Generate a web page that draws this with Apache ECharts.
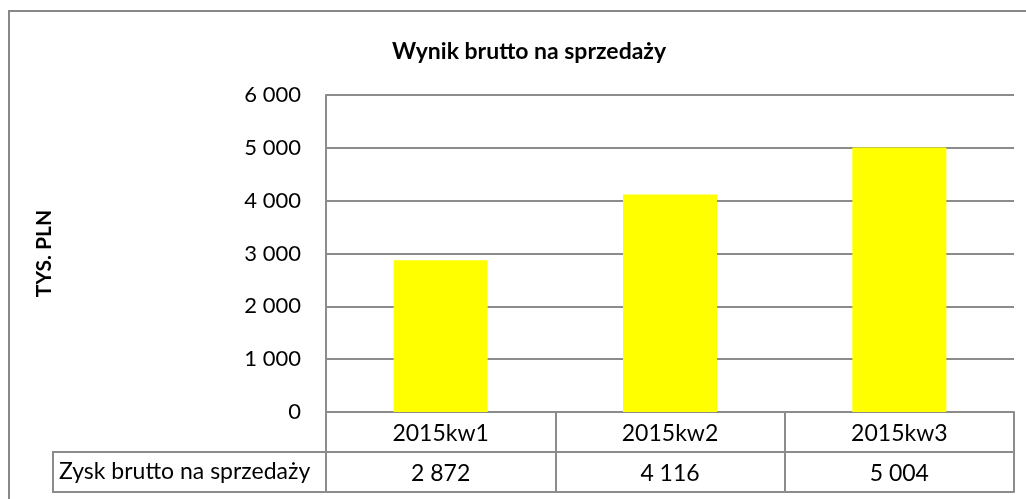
<!DOCTYPE html>
<html>
<head>
<meta charset="utf-8">
<title>Wynik brutto na sprzedaży</title>
<script src="https://cdn.jsdelivr.net/npm/echarts@6/dist/echarts.min.js"></script>
<style>
  html, body { margin: 0; padding: 0; background: #fff; }
  #chart { width: 1026px; height: 499px; }
</style>
</head>
<body>
<div id="chart"></div>
<script>
// data
const categories = ['2015kw1', '2015kw2', '2015kw3'];
const seriesName = 'Zysk brutto na sprzedaży';
const profit = [2872, 4116, 5004];
const yTicks = [0, 1000, 2000, 3000, 4000, 5000, 6000];

const lineColor = '#8c8c8c';
const font = 'Lato, "Noto Sans", sans-serif';

// layout
const gridLeft = 326, gridRight = 12, gridTop = 95, gridBottom = 87;
const rowH = 40;
const headLeft = 53;

const fmt = v => String(v).replace(/\B(?=(\d{3})+(?!\d))/g, ' ');

const chart = echarts.init(document.getElementById('chart'));

const option = {
  animation: false,
  title: {
    text: 'Wynik brutto na sprzedaży',
    left: 524,
    top: 35,
    textAlign: 'center',
    textStyle: { fontFamily: font, fontWeight: 'bold', fontSize: 23, color: '#000' }
  },
  grid: { left: gridLeft, right: gridRight, top: gridTop, bottom: gridBottom },
  xAxis: [
    {
      type: 'category',
      data: categories,
      position: 'bottom',
      axisLine: { lineStyle: { color: lineColor, width: 2 } },
      axisTick: { show: true, length: rowH, lineStyle: { color: lineColor, width: 2 } },
      axisLabel: { margin: 10, fontFamily: font, fontSize: 23, color: '#000' }
    },
    {
      type: 'category',
      data: profit.map(fmt),
      position: 'bottom',
      offset: rowH,
      axisLine: { lineStyle: { color: lineColor, width: 2 } },
      axisTick: { show: true, length: rowH, lineStyle: { color: lineColor, width: 2 } },
      axisLabel: { margin: 10, fontFamily: font, fontSize: 23, color: '#000' }
    },
    {
      type: 'category',
      data: categories,
      position: 'bottom',
      offset: rowH * 2,
      axisLine: { lineStyle: { color: lineColor, width: 2 } },
      axisTick: { show: false },
      axisLabel: { show: false }
    }
  ],
  yAxis: {
    type: 'value',
    min: yTicks[0],
    max: yTicks[yTicks.length - 1],
    interval: yTicks[1] - yTicks[0],
    name: 'TYS. PLN',
    nameLocation: 'middle',
    nameRotate: 90,
    nameGap: 271,
    nameTextStyle: { fontFamily: font, fontWeight: 'bold', fontSize: 21, color: '#000' },
    axisLine: { show: true, lineStyle: { color: lineColor, width: 2 } },
    axisTick: { show: false },
    splitLine: { lineStyle: { color: lineColor, width: 2 } },
    axisLabel: { margin: 25, fontFamily: font, fontSize: 22, color: '#000', formatter: fmt }
  },
  series: [
    {
      name: seriesName,
      type: 'bar',
      xAxisIndex: 0,
      data: profit,
      barWidth: '41%',
      itemStyle: { color: '#ffff00' }
    }
  ],
  graphic: [
    // outer chart-area border
    {
      type: 'rect',
      shape: { x: 9, y: 11, width: 1040, height: 520 },
      style: { fill: 'none', stroke: '#888', lineWidth: 2 },
      silent: true
    },
    // row header cell of the data table
    {
      type: 'rect',
      shape: {
        x: headLeft,
        y: 499 - gridBottom + rowH,
        width: gridLeft - headLeft,
        height: rowH
      },
      style: { fill: 'none', stroke: lineColor, lineWidth: 2 },
      silent: true
    },
    {
      type: 'text',
      x: headLeft + 6,
      y: 499 - gridBottom + rowH * 1.5,
      style: {
        text: seriesName,
        fontFamily: font,
        fontSize: 23,
        fill: '#000',
        verticalAlign: 'middle'
      },
      silent: true
    }
  ]
};

chart.setOption(option);
</script>
</body>
</html>
